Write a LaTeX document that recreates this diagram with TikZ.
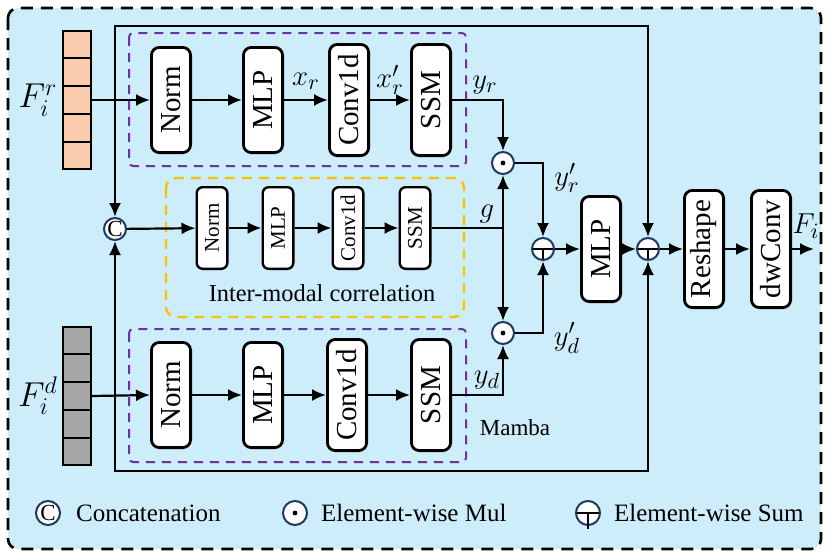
\documentclass[tikz,border=0pt]{standalone}
\usepackage{fontspec}
\setmainfont{Liberation Serif}
\usepackage{graphicx}
\usetikzlibrary{positioning,arrows.meta,calc}
\definecolor{bgblue}{RGB}{204,237,249}
\definecolor{peach}{RGB}{248,204,173}
\definecolor{greycell}{RGB}{166,166,166}
\definecolor{mambapurple}{RGB}{112,48,160}
\definecolor{gold}{RGB}{255,192,0}
\definecolor{opnavy}{RGB}{31,56,100}

\begin{document}
\begin{tikzpicture}[x=0.5pt,y=-0.5pt,>={Latex[length=7pt,width=6pt]},line width=1.1pt,
    blk/.style={draw,line width=1.4pt,rounded corners=4pt,fill=white,inner sep=0pt,minimum width=19.6pt,minimum height=52.6pt,font=\fontsize{14.5}{16}\selectfont},
    tall/.style={blk,minimum height=55.6pt},
    outblk/.style={blk,minimum height=58.6pt},
    sblk/.style={draw,line width=1.2pt,rounded corners=3pt,fill=white,inner sep=0pt,minimum width=15.3pt,minimum height=40.8pt,font=\fontsize{10.5}{12}\selectfont},
    feat/.style={draw,line width=1pt,minimum width=14pt,minimum height=69pt,inner sep=0pt},
    op/.style={circle,draw=opnavy,line width=1pt,fill=white,minimum size=11pt,inner sep=0pt},
    mulop/.style={op,path picture={\fill[black] (path picture bounding box.center) circle (1.2pt);}},
    sumop/.style={op,path picture={\draw[black,line width=1.4pt] (path picture bounding box.west) -- (path picture bounding box.east) (path picture bounding box.center) -- (path picture bounding box.south);}},
    catop/.style={op,font=\fontsize{11.5}{12}\selectfont},
    lbl/.style={inner sep=0pt,font=\fontsize{15}{16}\selectfont},
    flbl/.style={inner sep=0pt,font=\fontsize{17}{18}\selectfont},
    legtxt/.style={anchor=west,inner sep=0pt,font=\fontsize{12.5}{14}\selectfont},
    mamba/.style={draw=mambapurple,dash pattern=on 4.5pt off 3.5pt,line width=1pt,rounded corners=2pt},
    imc/.style={draw=gold,dash pattern=on 5pt off 3.5pt,line width=1.2pt,rounded corners=5pt}]
  \useasboundingbox (0,0) rectangle (830,558);
  \draw[fill=bgblue,line width=1.3pt,dash pattern=on 6pt off 4pt,rounded corners=5pt] (8,8) rectangle (821,549);

  % dashed groups
  \draw[mamba] (129,33) rectangle (466,166);
  \draw[mamba] (129,329) rectangle (466,462);
  \draw[imc] (166,178) rectangle (464,317);
  \node[font=\fontsize{12.2}{14}\selectfont] (timc) at (322,293) {Inter-modal correlation};
  \node[font=\fontsize{11.5}{13}\selectfont] (tmamba) at (515,428) {Mamba};

  % input features
  \node[feat,fill=peach] (rcol) at (77,100) {};
  \node[feat,fill=greycell] (dcol) at (77,396) {};
  \foreach \c in {rcol,dcol}
    \foreach \k in {1,...,4}
      \draw[line width=1pt] ($(\c.north west)!\k/5!(\c.south west)$) -- ($(\c.north east)!\k/5!(\c.south east)$);
  \node[flbl] (lfr) at (38,100) {$F_i^r$};
  \node[flbl] (lfd) at (38,396) {$F_i^d$};

  % rgb mamba
  \node[blk] (nr) at (171,100) {\rotatebox{90}{Norm}};
  \node[blk,right=25pt of nr] (mr) {\rotatebox{90}{MLP}};
  \node[tall,right=22pt of mr] (cr) {\rotatebox{90}{Conv1d}};
  \node[tall,right=20pt of cr] (sr) {\rotatebox{90}{SSM}};
  \draw[->] (rcol.east) -- (nr.west);
  \draw[->] (nr) -- (mr); \draw[->] (mr) -- (cr); \draw[->] (cr) -- (sr);
  \node[lbl] (lxr) at (306,81) {$x_r$};
  \node[lbl] (lxrp) at (390,80) {$x'_r$};
  \node[lbl] (lyr) at (485,85) {$y_r$};

  % depth mamba
  \node[blk] (nd) at (171,395) {\rotatebox{90}{Norm}};
  \node[blk,right=25pt of nd] (md) {\rotatebox{90}{MLP}};
  \node[tall,right=21pt of md] (cd) {\rotatebox{90}{Conv1d}};
  \node[tall,right=21pt of cd] (sd) {\rotatebox{90}{SSM}};
  \draw[->] (dcol.east) -- (nd.west);
  \draw[->] (nd) -- (md); \draw[->] (md) -- (cd); \draw[->] (cd) -- (sd);
  \node[lbl] (lyd) at (487,380) {$y_d$};

  % inter-modal branch
  \node[catop] (cat) at (115,229) {C};
  \node[sblk] (nm) at (212,228) {\rotatebox{90}{Norm}};
  \node[sblk,right=16.5pt of nm] (mm) {\rotatebox{90}{MLP}};
  \node[sblk,right=18.5pt of mm] (cm) {\rotatebox{90}{Conv1d}};
  \node[sblk,right=17pt of cm] (sm) {\rotatebox{90}{SSM}};
  \draw[->] (cat) -- (nm); \draw[->] (nm) -- (mm); \draw[->] (mm) -- (cm); \draw[->] (cm) -- (sm);
  \coordinate (tl) at (115,26);
  \coordinate (bl) at (115,471);
  \node[lbl] (lg) at (487,214) {$g$};

  % fusion
  \node[mulop] (mulr) at (503,163) {};
  \node[mulop] (muld) at (503,333) {};
  \coordinate (gj) at (503,228);
  \node[sumop] (sum1) at (543,249) {};
  \node[blk,right=12.5pt of sum1] (mlp) {\rotatebox{90}{MLP}};
  \node[sumop,right=7pt of mlp] (sum2) {};
  \node[outblk,right=11.5pt of sum2] (resh) {\rotatebox{90}{Reshape}};
  \node[outblk,right=12.5pt of resh] (dwc) {\rotatebox{90}{dwConv}};
  \coordinate (outp) at (814,249);
  \node[lbl] (lfi) at (806,226) {$F_i$};
  \node[lbl] (lyrp) at (567,178) {$y'_r$};
  \node[lbl] (lydp) at (567,338) {$y'_d$};

  \draw[->] (sr.east) -| (mulr);
  \draw[->] (sd.east) -| (muld);
  \draw (sm.east) -- (gj);
  \draw[->] (gj) -- (mulr); \draw[->] (gj) -- (muld);
  \draw[->] (mulr) -| (sum1); \draw[->] (muld) -| (sum1);
  \draw[->] (sum1) -- (mlp); \draw[->] (mlp) -- (sum2); \draw[->] (sum2) -- (resh);
  \draw[->] (resh) -- (dwc); \draw[->] (dwc) -- (outp);
  \draw[<->] (cat) -- (tl) -| (sum2);
  \draw[<->] (cat) -- (bl) -| (sum2);

  % legend
  \node[catop,minimum size=12pt] (lcat) at (48,513) {C};
  \node[legtxt] (tcat) at (75,513) {Concatenation};
  \node[mulop,minimum size=12pt] (lmul) at (295,513) {};
  \node[legtxt] (tmul) at (320,513) {Element-wise Mul};
  \node[sumop,minimum size=12pt] (lsum) at (588,513) {};
  \draw[line width=1.4pt] (lsum.center) -- ++(0,16);
  \node[legtxt] (tsum) at (613,513) {Element-wise Sum};
\end{tikzpicture}
\end{document}
